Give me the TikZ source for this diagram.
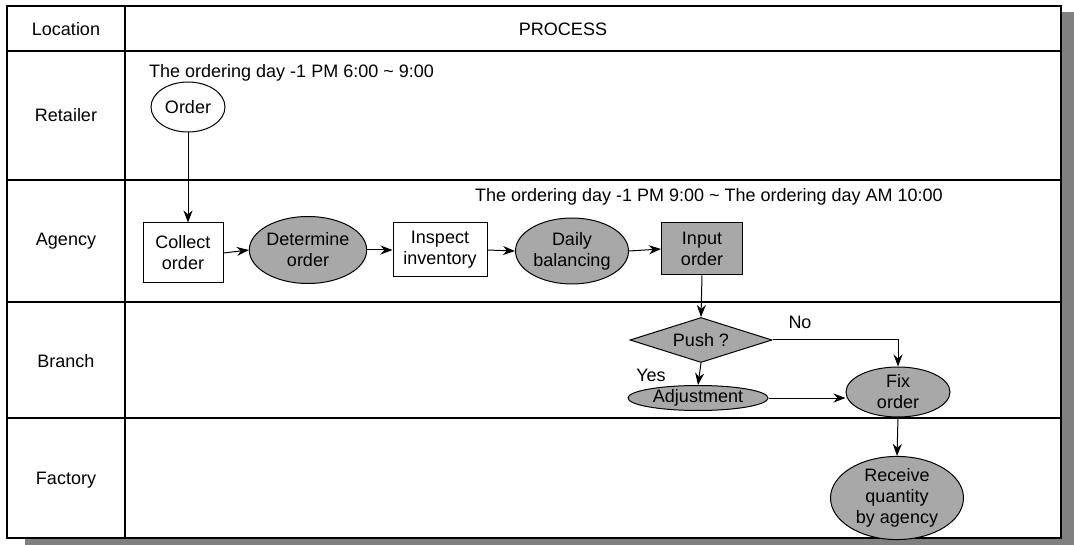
\documentclass[tikz,border=0pt]{standalone}
\usepackage{fontspec}
\setmainfont{Liberation Sans}
\usetikzlibrary{shapes.geometric,arrows.meta}
\definecolor{nodegray}{gray}{0.66}
\definecolor{shadowgray}{gray}{0.5}
\begin{document}
\begin{tikzpicture}[x=1pt,y=-1pt,
  every node/.style={font=\fontsize{18}{21}\selectfont, align=center, inner sep=0pt},
  oval/.style={ellipse, draw, line width=1pt},
  box/.style={rectangle, draw, line width=1pt},
  graynode/.style={fill=nodegray},
  decision/.style={diamond, draw, line width=1pt, fill=nodegray, aspect=3.2},
  flow/.style={line width=1pt, -{Stealth[length=12pt,width=9pt]}},
  frameline/.style={line width=1.8pt},
  rowline/.style={line width=1.3pt}]
\useasboundingbox (0,0) rectangle (1074,545);
% shadow
\fill[shadowgray] (1061,12) rectangle (1074,545);
\fill[shadowgray] (25,538) rectangle (1074,545);
\fill[white] (7,6) rectangle (1061,538);
% table
\draw[frameline] (7,6) rectangle (1061,538);
\draw[frameline] (125,6) -- (125,538);
\draw[rowline] (7,51) -- (1061,51);
\draw[rowline] (7,180) -- (1061,180);
\draw[rowline] (7,302) -- (1061,302);
\draw[rowline] (7,418) -- (1061,418);
% headers
\node (hloc) at (66,29) {Location};
\node (hproc) at (563,29) {PROCESS};
\node (lret) at (66,115) {Retailer};
\node (lag) at (66,241) {Agency};
\node (lbr) at (66,361) {Branch};
\node (lfa) at (66,480) {Factory};
% time labels
\node[anchor=west] (t1) at (149,73) {The ordering day -1 PM 6:00 \textasciitilde{} 9:00};
\node[anchor=east] (t2) at (943,197) {The ordering day -1 PM 9:00 \textasciitilde{} The ordering day AM 10:00};
% nodes
\node[oval, minimum width=74pt, minimum height=50pt] (order) at (188,107) {Order};
\node[box, minimum width=80pt, minimum height=60pt] (collect) at (183,253) {Collect\\order};
\node[oval, graynode, minimum width=116pt, minimum height=67pt] (determine) at (308,250) {Determine\\order};
\node[box, minimum width=94pt, minimum height=54pt] (inspect) at (440,250) {Inspect\\inventory};
\node[oval, graynode, minimum width=113pt, minimum height=66pt] (daily) at (572,251) {Daily\\balancing};
\node[box, graynode, minimum width=81pt, minimum height=52pt] (input) at (702,249) {Input\\order};
\node[decision, minimum width=142pt, minimum height=45pt] (push) at (701,340) {Push ?};
\node[oval, graynode, minimum width=140pt, minimum height=25pt] (adjust) at (698,398) {Adjustment};
\node[oval, graynode, minimum width=104pt, minimum height=50pt] (fix) at (898,392) {Fix\\order};
\node[oval, graynode, minimum width=133pt, minimum height=73pt] (receive) at (897,498) {Receive\\quantity\\by agency};
% labels
\node (no) at (800,322) {No};
\node (yes) at (651,375) {Yes};
% connectors
\draw[flow] (order.south) -- (order.south |- collect.north);
\draw[flow] (collect.east) -- (determine.west);
\draw[flow] (determine.east) -- (inspect.west);
\draw[flow] (inspect.east) -- (daily.west);
\draw[flow] (daily.east) -- (input.west);
\draw[flow] (input.south) -- (push.north);
\draw[flow] (push.east) -| (fix.north);
\draw[flow] (push.south) -- (adjust.north);
\draw[flow] (adjust.east) -- (adjust.east -| fix.west);
\draw[flow] (fix.south) -- (receive.north);
\end{tikzpicture}
\end{document}
